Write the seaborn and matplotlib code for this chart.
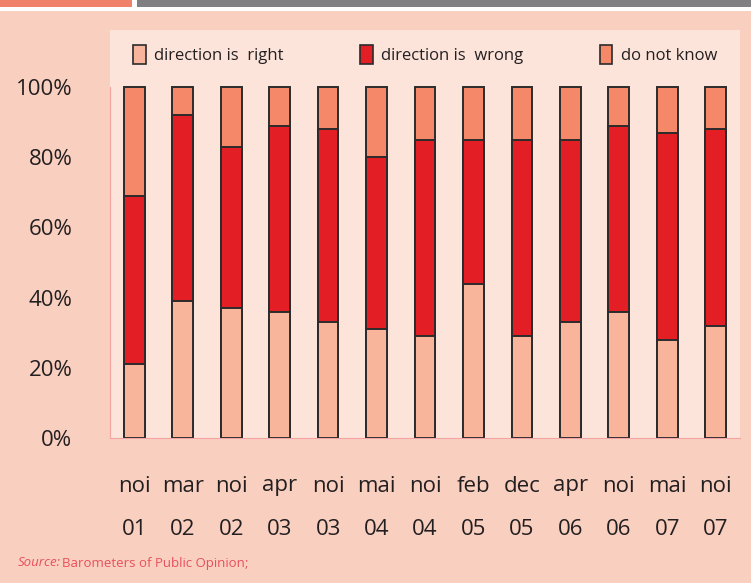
import matplotlib
matplotlib.use("Agg")
import matplotlib.pyplot as plt
from matplotlib.patches import Patch, Rectangle
import numpy as np
import pandas as pd
import seaborn as sns

# values (percent)
periods = ["noi\n01", "mar\n02", "noi\n02", "apr\n03", "noi\n03", "mai\n04", "noi\n04",
           "feb\n05", "dec\n05", "apr\n06", "noi\n06", "mai\n07", "noi\n07"]
right = [21, 39, 37, 36, 33, 31, 29, 44, 29, 33, 36, 28, 32]
wrong = [48, 53, 46, 53, 55, 49, 56, 41, 56, 52, 53, 59, 56]
dont_know = [31, 8, 17, 11, 12, 20, 15, 15, 15, 15, 11, 13, 12]

series_names = ["direction is  right", "direction is  wrong", "do not know"]
colors = ["#F9B49C", "#E31E24", "#F58868"]

sns.set_style("white")
plt.rcParams["font.family"] = ["Open Sans", "DejaVu Sans"]

df = pd.DataFrame({"period": periods, "right": right, "wrong": wrong, "dk": dont_know})
df["cum_wrong"] = df["right"] + df["wrong"]
df["cum_all"] = df["cum_wrong"] + df["dk"]

bg = "#F9CFC0"
panel = "#FCE4DA"
pink = "#F4A3A3"
text_c = "#231F20"

fig = plt.figure(figsize=(7.51, 5.83), dpi=100, facecolor=bg)
W, H = 751, 583
ax = fig.add_axes([110 / W, (H - 438) / H, 630 / W, 408 / H])
ax.set_facecolor(panel)

# stacked bars drawn as cumulative layers, top layer first
for col, c in [("cum_all", colors[2]), ("cum_wrong", colors[1]), ("right", colors[0])]:
    sns.barplot(data=df, x="period", y=col, color=c, width=0.43, saturation=1,
                edgecolor="#2B2B2B", linewidth=1.4, ax=ax)

ax.set_ylim(0, 116.2)
ax.set_xlim(-0.5, len(periods) - 0.5)
ax.set_xlabel("")
ax.set_ylabel("")
ax.set_yticks(np.arange(0, 101, 20))
ax.set_yticklabels([f"{v}%" for v in range(0, 101, 20)])

for s in ["top", "right"]:
    ax.spines[s].set_visible(False)
ax.spines["left"].set_color(pink)
ax.spines["bottom"].set_color(pink)
ax.spines["left"].set_bounds(0, 100)

ax.tick_params(axis="y", length=5, width=0.8, color=pink, pad=22, labelsize=16, labelcolor=text_c)
ax.tick_params(axis="x", which="major", length=0, pad=27, labelsize=16, labelcolor=text_c)
ax.set_xticks(np.arange(-0.5, len(periods), 1), minor=True)
ax.tick_params(axis="x", which="minor", length=7, width=0.8, color=pink)
for lbl in ax.get_xticklabels():
    lbl.set_linespacing(2.4)

handles = [Patch(facecolor=c, edgecolor="#2B2B2B", linewidth=1.2, label=n)
           for c, n in zip(colors, series_names)]
ax.legend(handles=handles, loc="upper center", bbox_to_anchor=(0.5, 1.0), ncol=3,
          frameon=False, fontsize=12, handlelength=0.75, handleheight=1.4,
          handletextpad=0.5, columnspacing=4.6, labelcolor=text_c)

# header stripes
fig.patches.append(Rectangle((0, 1 - 7 / H), 132 / W, 7 / H, transform=fig.transFigure,
                             facecolor="#F0826A", edgecolor="none", zorder=5))
fig.patches.append(Rectangle((137 / W, 1 - 7 / H), 1 - 137 / W, 7 / H, transform=fig.transFigure,
                             facecolor="#808083", edgecolor="none", zorder=5))
fig.patches.append(Rectangle((0, 1 - 11 / H), 1, 4 / H, transform=fig.transFigure,
                             facecolor="white", edgecolor="none", zorder=5))
fig.patches.append(Rectangle((132 / W, 1 - 7 / H), 5 / W, 7 / H, transform=fig.transFigure,
                             facecolor="white", edgecolor="none", zorder=5))

fig.text(18 / W, 1 - 563 / H, "Source:", color="#E8505B", fontsize=9.5, style="italic", va="center")
fig.text(62 / W, 1 - 563 / H, "Barometers of Public Opinion;", color="#E8505B", fontsize=9.5, va="center")

fig.savefig("out.png", dpi=100, facecolor=bg)
